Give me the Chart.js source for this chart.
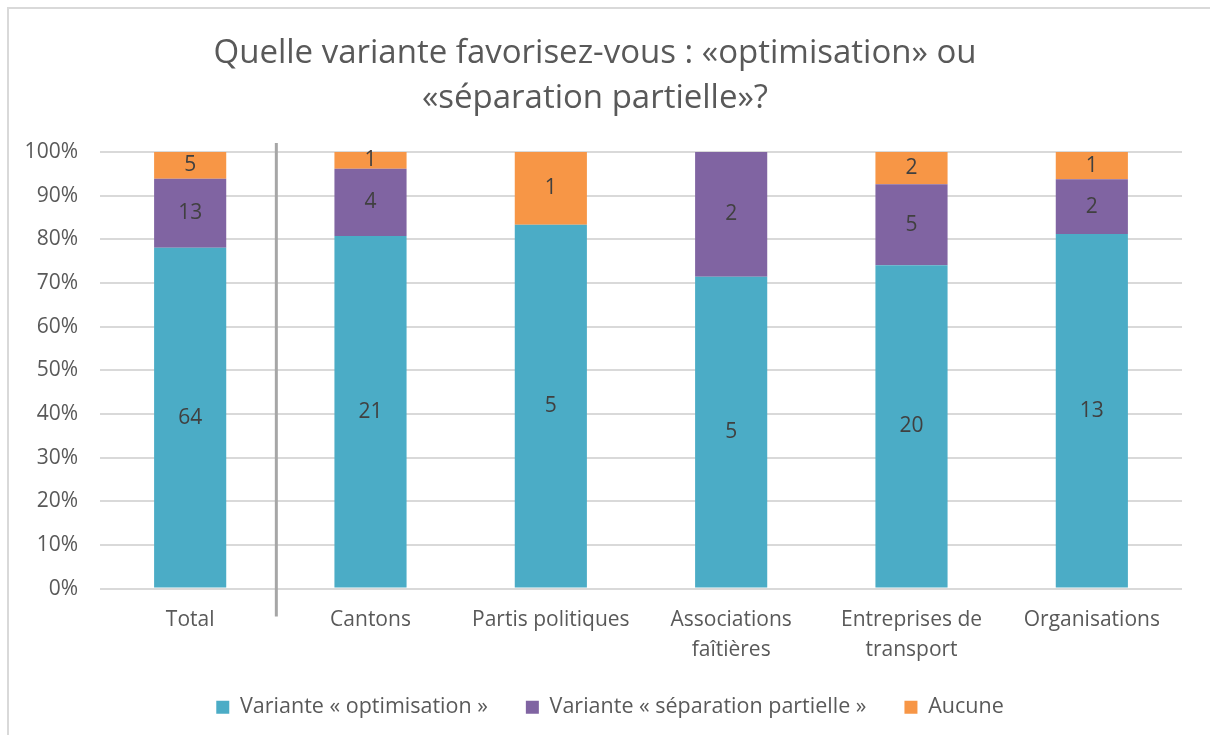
<!DOCTYPE html>
<html>
<head>
<meta charset="utf-8">
<script src="https://cdn.jsdelivr.net/npm/chart.js@4"></script>
<style>
  html,body{margin:0;padding:0;background:#fff;}
  #wrap{position:relative;width:1210px;height:735px;overflow:hidden;}
  #frame{position:absolute;left:7px;top:7px;width:1300px;height:800px;border-left:2px solid #D9D9D9;border-top:2px solid #D9D9D9;pointer-events:none;}
  canvas{position:absolute;left:0;top:0;}
</style>
</head>
<body>
<div id="wrap">
<canvas id="c" width="1210" height="735"></canvas>
<div id="frame"></div>
</div>
<script>
const categories = ["Total", "Cantons", "Partis politiques", ["Associations","faîtières"], ["Entreprises de","transport"], "Organisations"];
const optimisation = [64, 21, 5, 5, 20, 13];
const separation = [13, 4, 0, 2, 5, 2];
const aucune = [5, 1, 1, 0, 2, 1];
const seriesNames = ["Variante « optimisation »", "Variante « séparation partielle »", "Aucune"];
const yTicks = [0,10,20,30,40,50,60,70,80,90,100];
const titleLines = ["Quelle variante favorisez-vous : «optimisation» ou", "«séparation partielle»?"];

const totals = optimisation.map((v,i)=>v+separation[i]+aucune[i]);
const pct = arr => arr.map((v,i)=>v/totals[i]*100);
const counts = [optimisation, separation, aucune];
const colors = ["#4BACC6", "#8064A2", "#F79646"];
const FONT = "'Open Sans', sans-serif";
const GRAY = "#595959";

const labelPlugin = {
  id: 'segLabels',
  afterDatasetsDraw(chart){
    const ctx = chart.ctx;
    ctx.save();
    ctx.font = "21px " + FONT;
    ctx.fillStyle = "#404040";
    ctx.textAlign = "center";
    ctx.textBaseline = "middle";
    chart.data.datasets.forEach((ds, di)=>{
      const meta = chart.getDatasetMeta(di);
      meta.data.forEach((bar, i)=>{
        const c = counts[di][i];
        if (!c) return;
        const y = (bar.y + bar.base)/2;
        ctx.fillText(String(c), bar.x, y);
      });
    });
    ctx.restore();
  }
};

const sepPlugin = {
  id: 'separator',
  afterDatasetsDraw(chart){
    const xs = chart.scales.x, ys = chart.scales.y;
    const x = (xs.getPixelForValue(0) + xs.getPixelForValue(1))/2 - 4;
    const ctx = chart.ctx;
    ctx.save();
    ctx.strokeStyle = "#A6A6A6";
    ctx.lineWidth = 3;
    ctx.beginPath();
    ctx.moveTo(x, ys.getPixelForValue(100) - 9);
    ctx.lineTo(x, ys.getPixelForValue(0) + 28);
    ctx.stroke();
    ctx.restore();
  }
};

// tighten the gap between the axis labels and the legend
const legendShift = {
  id: 'legendShift',
  afterLayout(chart){
    if (chart.legend) {
      chart.legend.top -= 23;
      chart.legend.bottom -= 23;
      chart.legend.left += 15;
      chart.legend.right += 15;
    }
  }
};

new Chart(document.getElementById('c'), {
  type: 'bar',
  data: {
    labels: categories,
    datasets: counts.map((arr, i)=>({
      label: seriesNames[i],
      data: pct(arr),
      backgroundColor: colors[i],
      borderWidth: 0,
      barPercentage: 0.4,
      categoryPercentage: 1.0
    }))
  },
  options: {
    responsive: false,
    animation: false,
    devicePixelRatio: 1,
    layout: { padding: { left: 8, right: 28, top: 0, bottom: -16 } },
    plugins: {
      title: {
        display: true,
        text: titleLines,
        color: GRAY,
        font: { family: FONT, size: 33, weight: 'normal', lineHeight: 1.364 },
        padding: { top: 31, bottom: 31 }
      },
      legend: {
        position: 'bottom',
        labels: {
          color: GRAY,
          font: { family: FONT, size: 21.5 },
          boxWidth: 13,
          boxHeight: 13,
          padding: 38
        }
      },
      tooltip: { enabled: false }
    },
    scales: {
      x: {
        stacked: true,
        grid: { display: false, drawTicks: false, tickLength: 0 },
        border: { display: false },
        ticks: { color: GRAY, font: { family: FONT, size: 21, lineHeight: 1.45 }, padding: 16, maxRotation: 0 }
      },
      y: {
        stacked: true,
        min: 0, max: 100,
        afterFit(s){ s.width = 92; },
        afterBuildTicks(s){ s.ticks = yTicks.map(v=>({value:v})); },
        grid: { color: "#D9D9D9", lineWidth: 2, drawTicks: false },
        border: { display: false },
        ticks: { color: GRAY, font: { family: FONT, size: 21 }, padding: 22, callback: v => v + "%" }
      }
    }
  },
  plugins: [labelPlugin, sepPlugin, legendShift]
});
</script>
</body>
</html>
